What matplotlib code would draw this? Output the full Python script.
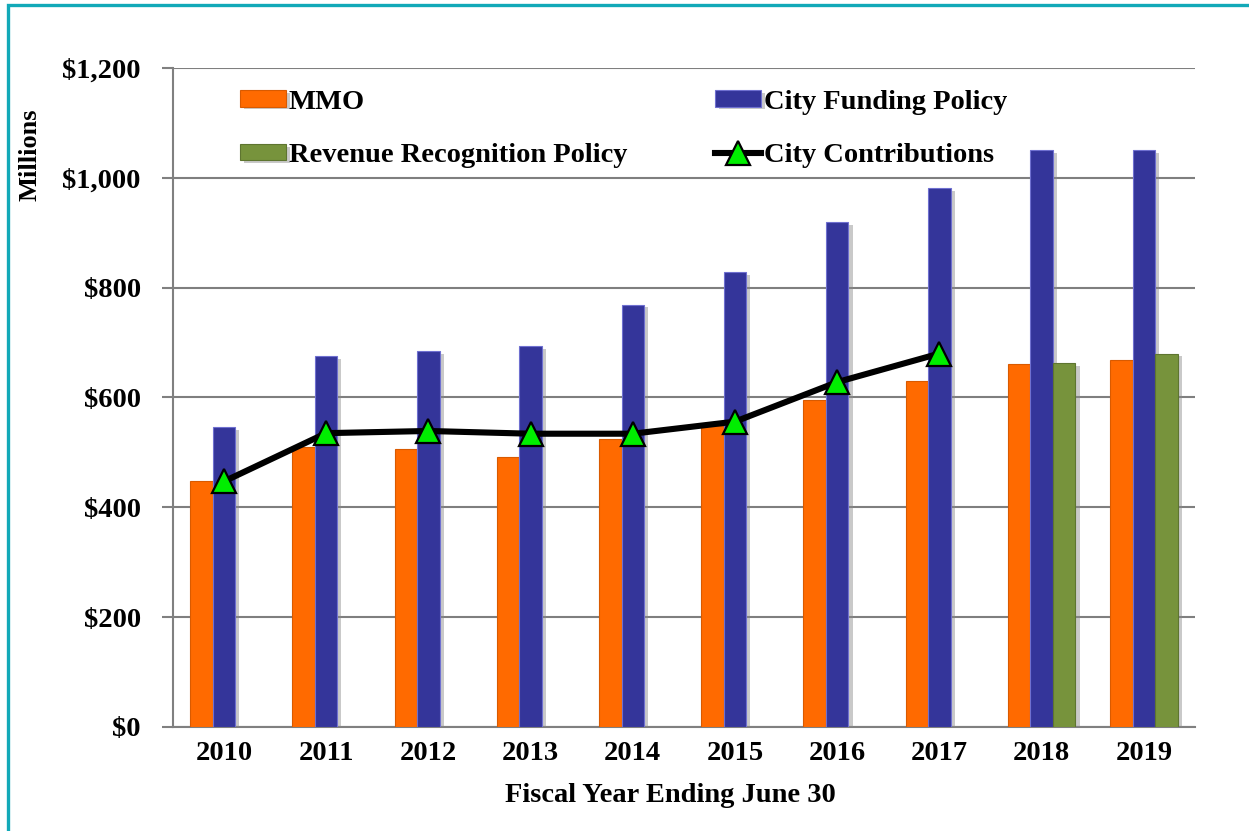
import numpy as np
import matplotlib
matplotlib.use("Agg")
import matplotlib.pyplot as plt
from matplotlib import patheffects as pe
from matplotlib.patches import Rectangle

years = ["2010", "2011", "2012", "2013", "2014", "2015", "2016", "2017", "2018", "2019"]
mmo = [448, 510, 506, 492, 524, 548, 596, 630, 661, 668]
city_funding = [546, 676, 684, 693, 769, 828, 920, 981, 1050, 1050]
revenue_recognition = [np.nan] * 8 + [662, 680]
city_contributions = [447, 535, 539, 534, 534, 556, 628, 680]

y_ticks = [0, 200, 400, 600, 800, 1000, 1200]
y_tick_labels = ["$0", "$200", "$400", "$600", "$800", "$1,000", "$1,200"]

plt.rcParams['font.family'] = ['Liberation Serif', 'DejaVu Serif']
plt.rcParams['font.weight'] = 'bold'

fig = plt.figure(figsize=(12.49, 8.31), dpi=100)
ax = fig.add_axes([0.1383, 0.1252, 0.8185, 0.793])

x = np.arange(len(years))
w = 0.22
shadow = [pe.SimplePatchShadow(offset=(3, -2), shadow_rgbFace='#888888', alpha=0.45), pe.Normal()]

b1 = ax.bar(x - w, mmo, w, color='#FF6A00', edgecolor='#D95A00', linewidth=0.8, zorder=3, label='MMO')
b2 = ax.bar(x, city_funding, w, color='#34359A', edgecolor='#6F70D0', linewidth=0.8, zorder=3, label='City Funding Policy')
b3 = ax.bar(x + w, revenue_recognition, w, color='#77933C', edgecolor='#5E7530', linewidth=0.8, zorder=3, label='Revenue Recognition Policy')
for bars in (b1, b2, b3):
    for p in bars:
        p.set_path_effects(shadow)

ln, = ax.plot(x[:len(city_contributions)], city_contributions, color='black', lw=4.4,
              marker='^', markersize=17, markerfacecolor='#00EE00', markeredgecolor='black',
              markeredgewidth=1.6, zorder=5, label='City Contributions')

ax.set_xlim(-0.5, len(years) - 0.5)
ax.set_ylim(0, 1200)
ax.set_yticks(y_ticks)
ax.set_yticklabels(y_tick_labels, fontsize=20.5, fontweight='bold')
ax.set_xticks(x)
ax.set_xticklabels(years, fontsize=20.5, fontweight='bold')
ax.tick_params(axis='x', length=0, pad=10)
ax.tick_params(axis='y', length=8, width=1.5, color='#808080', pad=15, direction='out')

ax.grid(axis='y', color='#7F7F7F', lw=1.5, zorder=0)
ax.set_axisbelow(True)
for s in ('top', 'right'):
    ax.spines[s].set_visible(False)
for s in ('left', 'bottom'):
    ax.spines[s].set_color('#808080')
    ax.spines[s].set_linewidth(1.5)

ax.set_ylabel('Millions', fontsize=19, fontweight='bold')
ax.yaxis.set_label_coords(-0.128, 0.868)
ax.set_xlabel('Fiscal Year Ending June 30', fontsize=20.5, fontweight='bold')
ax.xaxis.set_label_coords(0.487, -0.085)

handles = [b1, b3, b2, ln]
labels = ['MMO', 'Revenue Recognition Policy', 'City Funding Policy', 'City Contributions']
leg = ax.legend(handles, labels, ncol=2, loc='upper left', bbox_to_anchor=(0.041, 1.006),
                frameon=False, fontsize=20.5, handlelength=1.6, handleheight=0.5,
                handletextpad=0.1, columnspacing=3.1, labelspacing=1.0)
for t in leg.get_texts():
    t.set_fontweight('bold')

# teal outer frame
fig.patches.append(Rectangle((7.5 / 1249, -0.05), 1.2, 1.05 - 5.5 / 831,
                             transform=fig.transFigure, fill=False,
                             edgecolor='#12A9B8', linewidth=2.4, zorder=0))

fig.savefig('out.png', dpi=100)
